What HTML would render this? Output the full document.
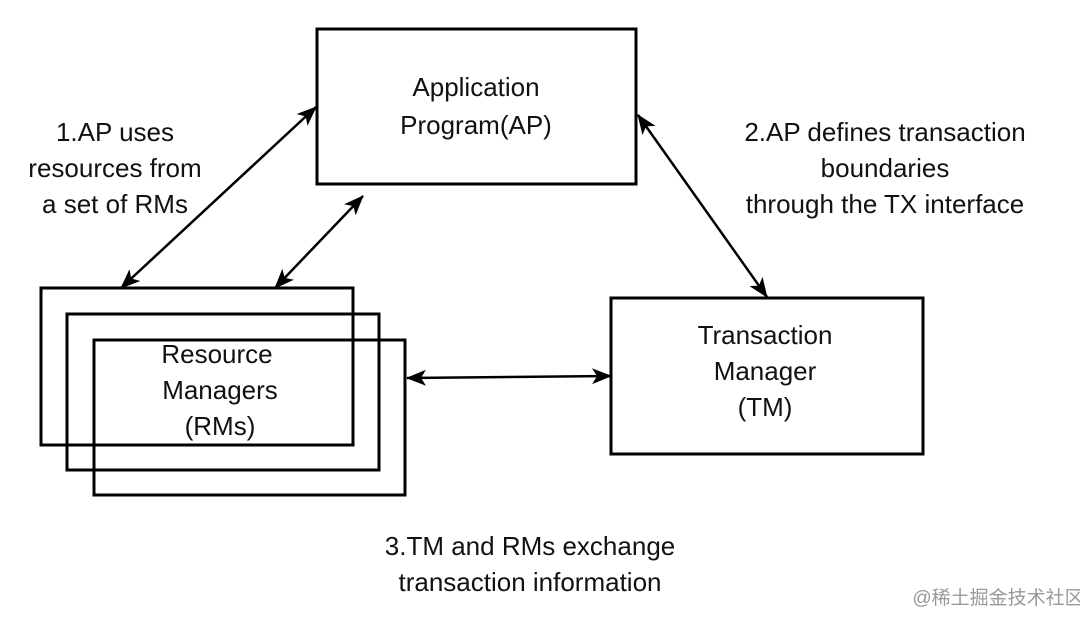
<!DOCTYPE html>
<html><head><meta charset="utf-8"><style>
html,body{margin:0;padding:0;background:#fff;}
svg text{font-family:"Liberation Sans","DejaVu Sans",sans-serif;font-size:26px;fill:#111;text-anchor:middle;}
</style></head><body>
<svg width="1080" height="616" viewBox="0 0 1080 616" xmlns="http://www.w3.org/2000/svg">
<defs>
<marker id="a" markerWidth="20" markerHeight="16" refX="19" refY="8" orient="auto-start-reverse" markerUnits="userSpaceOnUse" viewBox="0 0 20 16">
<path d="M0,0 L20,8 L0,16 L5,8 z" fill="#000"/>
</marker>
</defs>
<g fill="none" stroke="#000" stroke-width="3">
<rect x="317" y="29" width="319" height="155"/>
<rect x="611" y="298" width="312" height="156"/>
<rect x="41" y="288" width="312" height="157"/>
<rect x="67" y="314" width="312" height="156"/>
<rect x="94" y="340" width="311" height="155"/>
</g>
<g stroke="#000" stroke-width="2.5" fill="none">
<line x1="121" y1="288" x2="316" y2="107" marker-start="url(#a)" marker-end="url(#a)"/>
<line x1="275" y1="288" x2="363" y2="196" marker-start="url(#a)" marker-end="url(#a)"/>
<line x1="638" y1="115" x2="767" y2="297" marker-start="url(#a)" marker-end="url(#a)"/>
<line x1="407" y1="378" x2="611" y2="376" marker-start="url(#a)" marker-end="url(#a)"/>
</g>
<text x="476" y="96">Application</text>
<text x="476" y="134">Program(AP)</text>
<text x="115" y="141">1.AP uses</text>
<text x="115" y="177">resources from</text>
<text x="115" y="213">a set of RMs</text>
<text x="885" y="141">2.AP defines transaction</text>
<text x="885" y="177">boundaries</text>
<text x="885" y="213">through the TX interface</text>
<text x="217" y="363">Resource</text>
<text x="220" y="399">Managers</text>
<text x="220" y="435">(RMs)</text>
<text x="765" y="344">Transaction</text>
<text x="765" y="380">Manager</text>
<text x="765" y="416">(TM)</text>
<text x="530" y="555">3.TM and RMs exchange</text>
<text x="530" y="591">transaction information</text>
<text x="998" y="604" style="font-size:19px;fill:#999;font-family:'Liberation Sans','Noto Sans CJK SC',sans-serif">@稀土掘金技术社区</text>
</svg>
</body></html>
